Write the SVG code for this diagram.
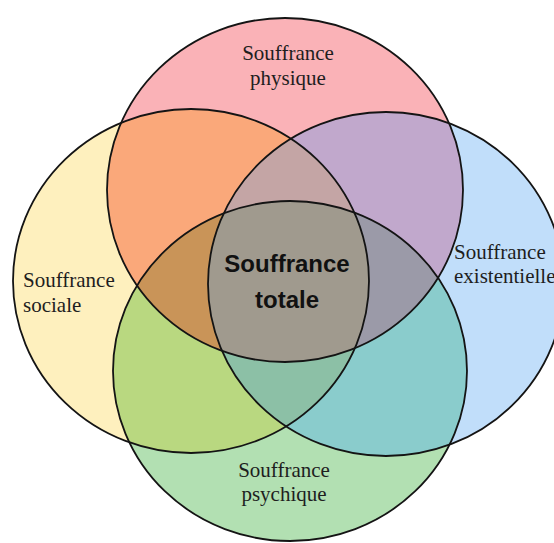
<svg xmlns="http://www.w3.org/2000/svg" width="554" height="543" viewBox="0 0 554 543">
  <style>
    .lbl { font-family: "Liberation Serif", "Times New Roman", serif; font-size: 21px; fill: #1e1e1e; }
    .mid { text-anchor: middle; }
    .big { font-family: "Liberation Sans", Arial, sans-serif; font-size: 24px; font-weight: bold; fill: #111; text-anchor: middle; }
    .ring { fill: none; stroke: #141414; stroke-width: 1.8; }
  </style>
  <defs>
    <ellipse id="eP" cx="285" cy="190" rx="178" ry="172"/>
    <ellipse id="eY" cx="191" cy="281" rx="178" ry="172"/>
    <ellipse id="eB" cx="386" cy="284" rx="178" ry="172"/>
    <ellipse id="eG" cx="290" cy="371" rx="177" ry="170"/>
    <clipPath id="cP"><use href="#eP"/></clipPath>
    <clipPath id="cY"><use href="#eY"/></clipPath>
    <clipPath id="cB"><use href="#eB"/></clipPath>
    <clipPath id="cG"><use href="#eG"/></clipPath>
  </defs>
  <rect width="554" height="543" fill="#ffffff"/>
  <g id="fills">
    <use href="#eY" fill="#FEF0BE"/>
    <use href="#eB" fill="#C1DEFA"/>
    <use href="#eG" fill="#B2E0B2"/>
    <use href="#eP" fill="#FAB2B7"/>
  </g>
  <g id="overlaps">
    <g clip-path="url(#cY)"><use href="#eP" fill="#FAA87A"/></g>
    <g clip-path="url(#cB)"><use href="#eP" fill="#C1A8CC"/></g>
    <g clip-path="url(#cY)"><use href="#eG" fill="#B9D880"/></g>
    <g clip-path="url(#cB)"><use href="#eG" fill="#8ACCCC"/></g>
    <g clip-path="url(#cY)"><g clip-path="url(#cG)"><use href="#eP" fill="#C99458"/></g></g>
    <g clip-path="url(#cB)"><g clip-path="url(#cG)"><use href="#eP" fill="#9B9AA8"/></g></g>
    <g clip-path="url(#cY)"><g clip-path="url(#cB)"><use href="#eP" fill="#C4A5A5"/></g></g>
    <g clip-path="url(#cY)"><g clip-path="url(#cB)"><use href="#eG" fill="#8CC0A6"/></g></g>
    <g clip-path="url(#cY)"><g clip-path="url(#cB)"><g clip-path="url(#cG)"><use href="#eP" fill="#A09A8E"/></g></g></g>
  </g>
  <g id="connectors"/>
  <g id="physique">
    <use href="#eP" class="ring"/>
    <text class="lbl mid" x="288" y="60">Souffrance</text>
    <text class="lbl mid" x="288" y="85">physique</text>
  </g>
  <g id="sociale">
    <use href="#eY" class="ring"/>
    <text class="lbl" x="23" y="287">Souffrance</text>
    <text class="lbl" x="23" y="312">sociale</text>
  </g>
  <g id="existentielle">
    <use href="#eB" class="ring"/>
    <text class="lbl" x="454" y="259">Souffrance</text>
    <text class="lbl" x="454" y="283">existentielle</text>
  </g>
  <g id="psychique">
    <use href="#eG" class="ring"/>
    <text class="lbl mid" x="284" y="477">Souffrance</text>
    <text class="lbl mid" x="284" y="501">psychique</text>
  </g>
  <g id="totale">
    <text class="big" x="287" y="272">Souffrance</text>
    <text class="big" x="287" y="308">totale</text>
  </g>
</svg>
